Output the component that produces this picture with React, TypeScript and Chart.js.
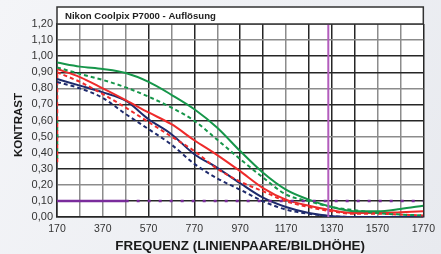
import React, { useEffect, useRef } from 'react';
import { Chart, registerables } from 'chart.js';

Chart.register(...registerables);

// Frequency (line pairs / picture height)
const frequencies = [170, 270, 370, 470, 570, 670, 770, 870, 970, 1070, 1170, 1270, 1370, 1470, 1570, 1670, 1770];

const greenSolid = [0.96, 0.935, 0.92, 0.895, 0.84, 0.76, 0.67, 0.555, 0.41, 0.275, 0.17, 0.108, 0.062, 0.036, 0.036, 0.05, 0.07];
const greenDashed = [0.93, 0.89, 0.852, 0.806, 0.748, 0.68, 0.598, 0.48, 0.36, 0.245, 0.14, 0.098, 0.062, 0.042, 0.025, 0.015, 0.01];
const redSolid = [0.92, 0.87, 0.8, 0.727, 0.65, 0.577, 0.477, 0.385, 0.285, 0.18, 0.108, 0.07, 0.042, 0.025, 0.025, 0.03, 0.035];
const redDashed = [0.9, 0.84, 0.764, 0.68, 0.59, 0.5, 0.41, 0.3, 0.22, 0.16, 0.098, 0.062, 0.035, 0.02, 0.02, 0.015, 0.01];
const navySolid = [0.858, 0.817, 0.775, 0.723, 0.608, 0.515, 0.39, 0.306, 0.21, 0.12, 0.062, 0.025, 0.005, 0, 0, 0, 0];
const navyDashed = [0.84, 0.8, 0.74, 0.64, 0.546, 0.45, 0.33, 0.24, 0.17, 0.098, 0.046, 0.02, 0.005, 0, 0, 0, 0];

// Start segments at the left edge (frequency 170)
const redEdge = [0.34, 0.9];
const greenEdge = [0.36, 0.6];
const navyEdge = [0.49, 0.53];

// Reference lines
const limitFrequency = 1355;
const limitContrast = 0.1;
const limitContrastX = [170, 470, 1770];

const titleText = 'Nikon Coolpix P7000 - Auflösung';
const xTitle = 'FREQUENZ (LINIENPAARE/BILDHÖHE)';
const yTitle = 'KONTRAST';

const grayX = [270, 370, 470, 670, 870, 1170, 1570, 1670];
const grayY = [11, 8, 5, 2];

const GREEN = '#16964a';
const RED = '#ee2b2b';
const NAVY = '#1e2a6c';
const FONT = "'Liberation Sans', Arial, sans-serif";

export default function App() {
  const ref = useRef<HTMLCanvasElement>(null);

  useEffect(() => {
    const canvas = ref.current!;
    const mk = (data: number[]) => frequencies.map((x, i) => ({ x, y: data[i] }));
    const edge = (vals: number[]) => vals.map((y) => ({ x: frequencies[0], y }));

    const curve = (data: number[], color: string, dashed: boolean) => ({
      data: mk(data),
      borderColor: color,
      borderWidth: 2,
      borderDash: dashed ? [4, 3] : [],
      pointRadius: 0,
      cubicInterpolationMode: 'monotone' as const,
      fill: false,
    });

    const edgeSet = (vals: number[], color: string) => ({
      data: edge(vals),
      borderColor: color,
      borderWidth: 2.5,
      borderDash: [4, 3],
      pointRadius: 0,
      tension: 0,
      fill: false,
    });

    const decor = {
      id: 'decor',
      beforeDraw(chart: any) {
        const { ctx, chartArea: a, width, height } = chart;
        ctx.save();
        const g = ctx.createLinearGradient(0, 0, width, height);
        g.addColorStop(0, '#f4f5f8');
        g.addColorStop(1, '#e8eaef');
        ctx.fillStyle = g;
        ctx.fillRect(0, 0, width, height);
        ctx.fillStyle = '#ffffff';
        ctx.fillRect(a.left, a.top, a.right - a.left, a.bottom - a.top);
        ctx.restore();
      },
      afterDraw(chart: any) {
        const { ctx, chartArea: a } = chart;
        ctx.save();
        // title box
        ctx.fillStyle = '#ffffff';
        ctx.fillRect(a.left, 7, a.right - a.left, a.top - 7);
        ctx.strokeStyle = '#333333';
        ctx.lineWidth = 1.5;
        ctx.strokeRect(a.left, 7, a.right - a.left, a.top - 7);
        ctx.fillStyle = '#222222';
        ctx.font = `bold 9.6px ${FONT}`;
        ctx.textAlign = 'left';
        ctx.textBaseline = 'middle';
        ctx.fillText(titleText, a.left + 8, (7 + a.top) / 2 + 0.5);
        // x title
        ctx.font = `bold 13.4px ${FONT}`;
        ctx.textAlign = 'center';
        ctx.fillStyle = '#1a1a1a';
        ctx.fillText(xTitle, (a.left + a.right) / 2, 246.5);
        // y title
        ctx.translate(19, 125);
        ctx.rotate(-Math.PI / 2);
        ctx.font = `bold 11.5px ${FONT}`;
        ctx.fillText(yTitle, 0, 0);
        ctx.restore();
      },
    };

    const chart = new Chart(canvas, {
      type: 'line',
      data: {
        datasets: [
          {
            data: [{ x: limitFrequency, y: 0 }, { x: limitFrequency, y: 1.2 }],
            borderColor: '#b25cbc',
            borderWidth: 2,
            pointRadius: 0,
            fill: false,
          },
          {
            data: limitContrastX.map((x) => ({ x, y: limitContrast })),
            borderColor: '#7a2c9c',
            borderWidth: 2.5,
            pointRadius: 0,
            fill: false,
            segment: {
              borderDash: (c: any) => (c.p0.parsed.x >= 470 ? [3, 8] : undefined),
            },
          },
          curve(greenSolid, GREEN, false),
          curve(greenDashed, GREEN, true),
          curve(redSolid, RED, false),
          curve(redDashed, RED, true),
          curve(navySolid, NAVY, false),
          curve(navyDashed, NAVY, true),
          edgeSet(redEdge, RED),
          edgeSet(greenEdge, GREEN),
          edgeSet(navyEdge, NAVY),
        ] as any,
      },
      options: {
        responsive: false,
        animation: false,
        layout: { padding: { top: 24, right: 9, left: 0, bottom: 0 } },
        plugins: {
          legend: { display: false },
          tooltip: { enabled: false },
          title: { display: false },
        },
        scales: {
          x: {
            type: 'linear',
            min: 170,
            max: 1770,
            afterFit: (s: any) => {
              s.height = 37;
            },
            ticks: {
              stepSize: 100,
              autoSkip: false,
              maxRotation: 0,
              padding: 6,
              color: '#333333',
              font: { family: FONT, size: 10.5 },
              callback: (v: any) => ((Number(v) - 170) % 200 === 0 ? String(v) : ''),
            },
            grid: {
              drawTicks: false,
              lineWidth: 1.5,
              color: (c: any) => (grayX.includes(Math.round(c.tick?.value ?? 0)) ? '#8c8c8c' : '#262626'),
            },
            border: { display: true, color: '#262626', width: 1.5 },
          },
          y: {
            min: 0,
            max: 1.2,
            afterFit: (s: any) => {
              s.width = 57;
            },
            ticks: {
              stepSize: 0.1,
              autoSkip: false,
              padding: 4,
              color: '#333333',
              font: { family: FONT, size: 11 },
              callback: (v: any) => Number(v).toFixed(2).replace('.', ','),
            },
            grid: {
              drawTicks: false,
              lineWidth: 1.5,
              color: (c: any) => (grayY.includes(Math.round((c.tick?.value ?? 0) * 10)) ? '#8c8c8c' : '#262626'),
            },
            border: { display: true, color: '#262626', width: 1.5 },
          },
        },
      } as any,
      plugins: [decor],
    });

    return () => chart.destroy();
  }, []);

  return (
    <div style={{ position: 'absolute', left: 0, top: 0, width: 441, height: 254 }}>
      <canvas ref={ref} width={441} height={254} style={{ display: 'block', width: 441, height: 254 }} />
    </div>
  );
}
